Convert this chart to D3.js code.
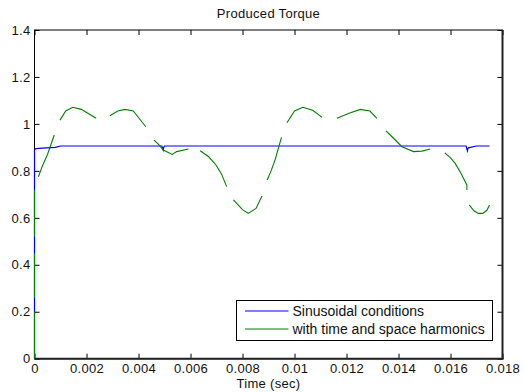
<!DOCTYPE html>
<html>
<head>
<meta charset="utf-8">
<script src="https://cdn.jsdelivr.net/npm/d3@7"></script>
<style>
  body { margin: 0; background: #fff; }
  svg { display: block; font-family: "Liberation Sans", Arial, sans-serif; }
  .tick text { font-size: 13px; fill: #111; letter-spacing: 0.3px; }
</style>
</head>
<body>
<svg id="chart" width="524" height="392"></svg>
<script>
// ticks
var xTicks = [0, 0.002, 0.004, 0.006, 0.008, 0.01, 0.012, 0.014, 0.016, 0.018];
var xTickLabels = ["0", "0.002", "0.004", "0.006", "0.008", "0.01", "0.012", "0.014", "0.016", "0.018"];
var yTicks = [0, 0.2, 0.4, 0.6, 0.8, 1, 1.2, 1.4];
var yTickLabels = ["0", "0.2", "0.4", "0.6", "0.8", "1", "1.2", "1.4"];

// blue: sinusoidal conditions
var sinT = [0, 0, 0.00005, 0.0003, 0.0008, 0.0010, 0.0049, 0.00495, 0.00497, 0.0050, 0.0051, 0.0166, 0.01665, 0.01668, 0.0170, 0.0175];
var sinV = [0, 0.890, 0.895, 0.897, 0.900, 0.906, 0.906, 0.889, 0.900, 0.906, 0.906, 0.906, 0.885, 0.898, 0.906, 0.906];

// green: with time and space harmonics (NaN = gap in the trace)
var harmT = [0, 0, NaN, 0, 0, NaN, 0, 0, NaN,
  0.00015, 0.0003, 0.0005, 0.00076, NaN,
  0.00098, 0.0012, 0.00147, 0.0018, 0.00237, NaN,
  0.0029, 0.0032, 0.00348, 0.0038, 0.00428, NaN,
  0.0046, 0.0048, 0.00495, 0.0053, 0.00547, 0.00592, NaN,
  0.00637, 0.0067, 0.00698, 0.0072, 0.00739, NaN,
  0.00765, 0.0080, 0.00822, 0.00852, 0.00875, NaN,
  0.00895, 0.0091, 0.00925, 0.0095, NaN,
  0.00971, 0.0100, 0.01032, 0.0107, 0.01106, NaN,
  0.01163, 0.0121, 0.01253, 0.0129, 0.01317, NaN,
  0.01352, 0.0138, 0.01413, 0.01458, 0.0149, 0.01522, NaN,
  0.01578, 0.0160, 0.01618, 0.0164, 0.01663, 0.01663, NaN,
  0.01672, 0.0169, 0.01707, 0.01724, 0.0174, 0.0175];
var harmV = [0, 0.2, NaN, 0.26, 0.45, NaN, 0.52, 0.72, NaN,
  0.775, 0.82, 0.87, 0.953, NaN,
  1.016, 1.055, 1.071, 1.062, 1.024, NaN,
  1.035, 1.055, 1.062, 1.055, 0.988, NaN,
  0.931, 0.910, 0.889, 0.870, 0.882, 0.893, NaN,
  0.886, 0.860, 0.825, 0.785, 0.733, NaN,
  0.676, 0.635, 0.619, 0.640, 0.693, NaN,
  0.761, 0.800, 0.846, 0.943, NaN,
  1.005, 1.055, 1.071, 1.058, 1.028, NaN,
  1.024, 1.045, 1.062, 1.055, 1.024, NaN,
  0.970, 0.940, 0.903, 0.882, 0.884, 0.893, NaN,
  0.877, 0.855, 0.832, 0.790, 0.740, 0.718, NaN,
  0.655, 0.630, 0.619, 0.619, 0.632, 0.655];

var seriesNames = ["Sinusoidal conditions", "with time and space harmonics"];
var seriesColors = ["#0000ff", "#008000"];

var margin = {top: 30, right: 21.5, bottom: 33.3, left: 34.5};
var width = 524 - margin.left - margin.right;
var height = 392 - margin.top - margin.bottom;

var svg = d3.select("#chart");
var g = svg.append("g")
    .attr("transform", "translate(" + margin.left + "," + margin.top + ")");

var x = d3.scaleLinear().domain([0, 0.018]).range([0, width]);
var y = d3.scaleLinear().domain([0, 1.4]).range([height, 0]);

// axes with ticks pointing inward
g.append("g")
    .attr("transform", "translate(0," + height + ")")
    .call(d3.axisBottom(x).tickValues(xTicks).tickSizeInner(-5).tickSizeOuter(0).tickPadding(5)
        .tickFormat(function(d, i) { return xTickLabels[i]; }));
g.append("g")
    .call(d3.axisTop(x).tickValues(xTicks).tickSizeInner(-5).tickSizeOuter(0).tickFormat(""));
g.append("g")
    .call(d3.axisLeft(y).tickValues(yTicks).tickSizeInner(-5).tickSizeOuter(0).tickPadding(4)
        .tickFormat(function(d, i) { return yTickLabels[i]; }));
g.append("g")
    .attr("transform", "translate(" + width + ",0)")
    .call(d3.axisRight(y).tickValues(yTicks).tickSizeInner(-5).tickSizeOuter(0).tickFormat(""));

g.selectAll(".domain").remove();
g.selectAll(".tick line").attr("stroke", "#000");

// axes box
g.append("rect")
    .attr("width", width)
    .attr("height", height)
    .attr("fill", "none")
    .attr("stroke", "#000")
    .attr("stroke-width", 1);
g.append("line")
    .attr("x1", width).attr("x2", width).attr("y1", 0).attr("y2", height + 0.5)
    .attr("stroke", "#222").attr("stroke-width", 2);
g.append("line")
    .attr("x1", 0).attr("x2", width + 1).attr("y1", height).attr("y2", height)
    .attr("stroke", "#222").attr("stroke-width", 2);

// data lines
var line = d3.line()
    .defined(function(d) { return !isNaN(d[0]) && !isNaN(d[1]); })
    .x(function(d) { return x(d[0]); })
    .y(function(d) { return y(d[1]); });

var sinData = sinT.map(function(t, i) { return [t, sinV[i]]; });
var harmData = harmT.map(function(t, i) { return [t, harmV[i]]; });

g.append("path")
    .datum(sinData)
    .attr("d", line)
    .attr("fill", "none")
    .attr("stroke", seriesColors[0])
    .attr("stroke-width", 1.2);

g.append("path")
    .datum(harmData)
    .attr("d", line)
    .attr("fill", "none")
    .attr("stroke", seriesColors[1])
    .attr("stroke-width", 1.1);

// title and label
svg.append("text")
    .attr("x", margin.left + width / 2)
    .attr("y", 18)
    .attr("text-anchor", "middle")
    .style("font-size", "13px")
    .style("letter-spacing", "0.3px")
    .attr("fill", "#111")
    .text("Produced Torque");

svg.append("text")
    .attr("x", margin.left + width / 2)
    .attr("y", 388)
    .attr("text-anchor", "middle")
    .style("font-size", "13px")
    .style("letter-spacing", "0.3px")
    .attr("fill", "#111")
    .text("Time (sec)");

// legend
var legend = g.append("g")
    .attr("transform", "translate(" + (236.5 - margin.left) + "," + (300.5 - margin.top) + ")");

legend.append("rect")
    .attr("width", 256)
    .attr("height", 40)
    .attr("fill", "#fff")
    .attr("stroke", "#000")
    .attr("stroke-width", 1);

seriesNames.forEach(function(name, i) {
    var ly = 10.5 + i * 18;
    legend.append("line")
        .attr("x1", 8.5).attr("x2", 52)
        .attr("y1", ly).attr("y2", ly)
        .attr("stroke", seriesColors[i])
        .attr("stroke-width", 1.2);
    legend.append("text")
        .attr("x", 56)
        .attr("y", ly)
        .attr("dy", "0.35em")
        .style("font-size", "14px")
        .attr("fill", "#111")
        .text(name);
});
</script>
</body>
</html>
